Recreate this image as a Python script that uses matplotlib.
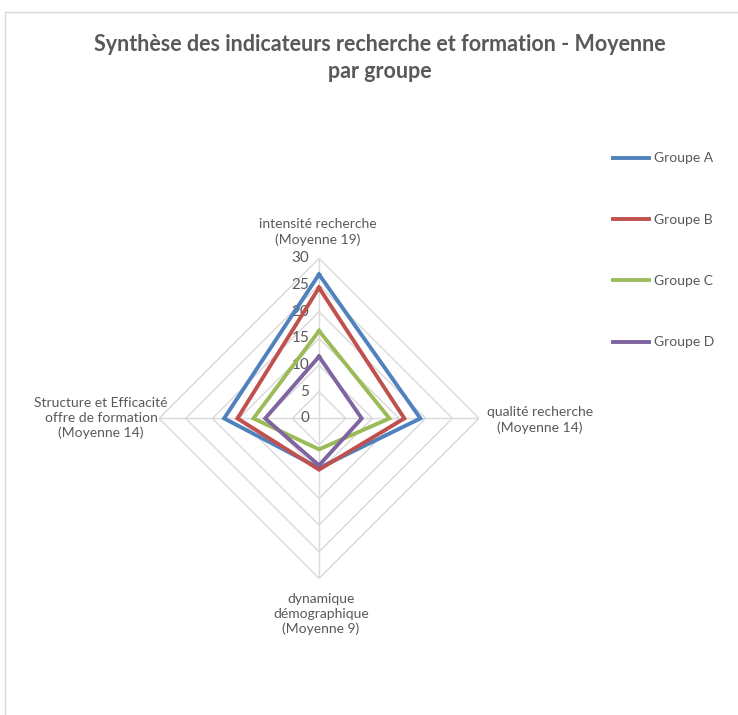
import numpy as np
import matplotlib
matplotlib.use("Agg")
import matplotlib.pyplot as plt
from matplotlib.patches import Rectangle
from matplotlib.transforms import offset_copy

plt.rcParams['font.family'] = ['Lato', 'DejaVu Sans']

# Data
categories = [
    "intensité recherche\n(Moyenne 19)",
    "qualité recherche\n(Moyenne 14)",
    "dynamique\ndémographique\n(Moyenne 9)",
    "Structure et Efficacité\noffre de formation\n(Moyenne 14)",
]
groups = ["Groupe A", "Groupe B", "Groupe C", "Groupe D"]
groupe_a = [27, 19, 9.3, 17.8]
groupe_b = [24.5, 16, 9.6, 15.3]
groupe_c = [16.4, 13.2, 5.8, 12.3]
groupe_d = [11.6, 8, 8.8, 10.1]
ticks = [0, 5, 10, 15, 20, 25, 30]

colors = ["#4F81BD", "#C0504D", "#9BBB59", "#8064A2"]
grid_color = "#D9D9D9"
text_color = "#595959"

fig = plt.figure(figsize=(7.38, 7.15), dpi=100)

# chart frame like in the spreadsheet export
fig.patches.append(Rectangle((5 / 738, -0.01), 1.0, 1 - 12 / 715 + 0.01,
                             transform=fig.transFigure, fill=False,
                             edgecolor="#D9D9D9", linewidth=1))

fig.text(0.514, 1 - 58 / 715, "Synthèse des indicateurs recherche et formation - Moyenne\npar groupe",
         ha="center", va="center", fontsize=15.5, fontweight="bold",
         color=text_color, linespacing=1.3)

ax = fig.add_axes([0.2155, 0.191, 0.4336, 0.4476], projection="polar")
ax.set_theta_offset(np.pi / 2)
ax.set_theta_direction(-1)
ax.set_ylim(0, 30)
ax.axis("off")

n = len(categories)
angles = np.linspace(0, 2 * np.pi, n, endpoint=False)
closed = np.append(angles, angles[0])

# diamond gridlines and spokes
for t in ticks[1:]:
    ax.plot(closed, [t] * (n + 1), color=grid_color, linewidth=1, zorder=1)
for a in angles:
    ax.plot([a, a], [0, ticks[-1]], color=grid_color, linewidth=1, zorder=1)

# radial tick labels on the left of the top spoke
lab_tr = offset_copy(ax.transData, fig=fig, x=-10, y=0, units="dots")
for t in ticks:
    ax.text(0, t, str(t), transform=lab_tr, ha="right", va="center",
            fontsize=11, color=text_color)

series = [groupe_a, groupe_b, groupe_c, groupe_d]
for name, vals, c in zip(groups, series, colors):
    ax.plot(closed, vals + vals[:1], color=c, linewidth=2.8, label=name,
            zorder=3, solid_joinstyle="miter")

# category labels
fig.text(318 / 738, 1 - 232 / 715, categories[0], ha="center", va="center",
         fontsize=10, color=text_color, linespacing=1.3)
fig.text(487 / 738, 1 - 420 / 715, categories[1], ha="left", va="center",
         fontsize=10, color=text_color, linespacing=1.3, multialignment="center")
fig.text(321 / 738, 1 - 614 / 715, categories[2], ha="center", va="center",
         fontsize=10, color=text_color, linespacing=1.3)
fig.text(168 / 738, 1 - 418 / 715, categories[3], ha="right", va="center",
         fontsize=10, color=text_color, linespacing=1.3, multialignment="center")

handles, labels = ax.get_legend_handles_labels()
fig.legend(handles, labels, loc="upper left", bbox_to_anchor=(600 / 738, 1 - 140 / 715),
           frameon=False, fontsize=10, labelspacing=3.55, handlelength=2.6,
           handletextpad=0.4, labelcolor=text_color)

fig.savefig("out.png", dpi=100)
